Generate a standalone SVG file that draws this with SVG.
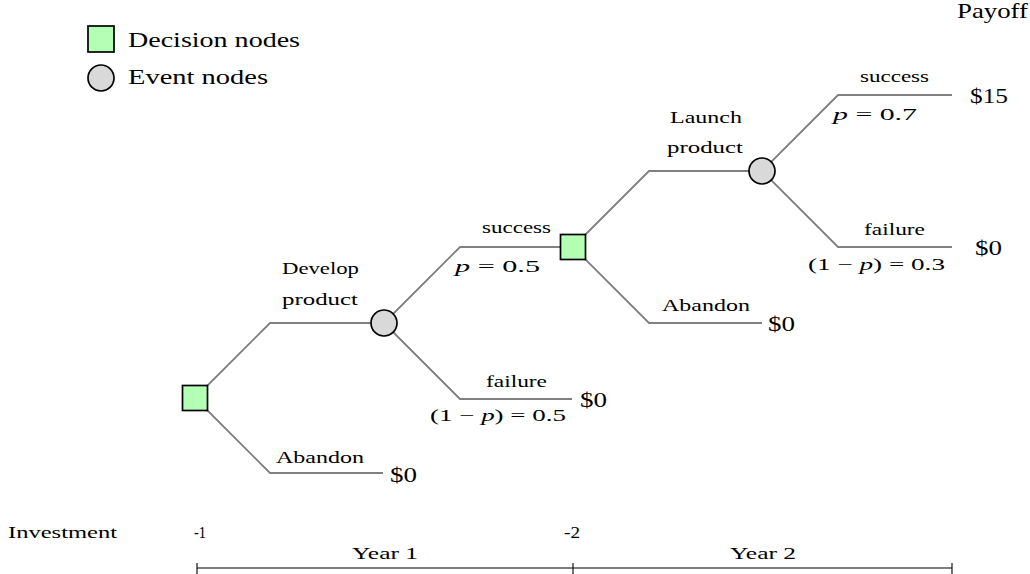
<svg xmlns="http://www.w3.org/2000/svg" width="1030" height="574" viewBox="0 0 1030 574" font-family="'Liberation Serif', 'Times New Roman', serif">
<style>
  .bg { fill: #ffffff; }
  .dec { fill: #b3ffb3; stroke: #000; stroke-width: 1.7; }
  .evt { fill: #d9d9d9; stroke: #000; stroke-width: 1.7; }
  .edge { fill: none; stroke: #808080; stroke-width: 1.8; }
  .axis { fill: none; stroke: #000; stroke-width: 1.1; }
  text { font-family: "Liberation Serif", "Times New Roman", serif; fill: #000; }
  .big { font-size: 21.5px; }
  .sm { font-size: 17.5px; }
  .mid { text-anchor: middle; }
  .it { font-style: italic; }
</style>
<rect class="bg" x="0" y="0" width="1030" height="574"/>

<g id="legend">
  <rect class="dec" x="88" y="26" width="26" height="26"/>
  <text class="big" x="128" y="47" textLength="172" lengthAdjust="spacingAndGlyphs">Decision nodes</text>
  <circle class="evt" cx="101" cy="78" r="13"/>
  <text class="big" x="128" y="84" textLength="140" lengthAdjust="spacingAndGlyphs">Event nodes</text>
</g>

<text id="payoff-title" class="big" x="957" y="18" textLength="71" lengthAdjust="spacingAndGlyphs">Payoff</text>

<g id="connectors">
  <polyline class="edge" points="195,398 270,323 384,323"/>
  <polyline class="edge" points="195,398 270,473 383,473"/>
  <polyline class="edge" points="384,323 460,247 573,247"/>
  <polyline class="edge" points="384,323 460,399 572,399"/>
  <polyline class="edge" points="573,247 649,171 762,171"/>
  <polyline class="edge" points="573,247 649,323 762,323"/>
  <polyline class="edge" points="762,171 838,95 952,95"/>
  <polyline class="edge" points="762,171 838,247 952,247"/>
</g>

<g id="edge-labels">
  <text class="sm" x="282" y="274" textLength="77" lengthAdjust="spacingAndGlyphs">Develop</text>
  <text class="sm" x="282" y="305" textLength="76" lengthAdjust="spacingAndGlyphs">product</text>
  <text class="sm" x="276" y="463" textLength="88" lengthAdjust="spacingAndGlyphs">Abandon</text>
  <text class="sm" x="482" y="233" textLength="69" lengthAdjust="spacingAndGlyphs">success</text>
  <text class="sm" x="455" y="272" textLength="85" lengthAdjust="spacingAndGlyphs"><tspan class="it">p</tspan> = 0.5</text>
  <text class="sm" x="486" y="387" textLength="61" lengthAdjust="spacingAndGlyphs">failure</text>
  <text class="sm" x="430" y="421" textLength="136" lengthAdjust="spacingAndGlyphs">(1 − <tspan class="it">p</tspan>) = 0.5</text>
  <text class="sm" x="670" y="123" textLength="72" lengthAdjust="spacingAndGlyphs">Launch</text>
  <text class="sm" x="667" y="153" textLength="76" lengthAdjust="spacingAndGlyphs">product</text>
  <text class="sm" x="662" y="311" textLength="88" lengthAdjust="spacingAndGlyphs">Abandon</text>
  <text class="sm" x="860" y="82" textLength="69" lengthAdjust="spacingAndGlyphs">success</text>
  <text class="sm" x="833" y="120" textLength="84" lengthAdjust="spacingAndGlyphs"><tspan class="it">p</tspan> = 0.7</text>
  <text class="sm" x="864" y="235" textLength="61" lengthAdjust="spacingAndGlyphs">failure</text>
  <text class="sm" x="808" y="270" textLength="137" lengthAdjust="spacingAndGlyphs">(1 − <tspan class="it">p</tspan>) = 0.3</text>
</g>

<g id="payoffs">
  <text class="big" x="970" y="103" textLength="38" lengthAdjust="spacingAndGlyphs">$15</text>
  <text class="big" x="975" y="255" textLength="27" lengthAdjust="spacingAndGlyphs">$0</text>
  <text class="big" x="768" y="331" textLength="27" lengthAdjust="spacingAndGlyphs">$0</text>
  <text class="big" x="580" y="407" textLength="27" lengthAdjust="spacingAndGlyphs">$0</text>
  <text class="big" x="390" y="482" textLength="27" lengthAdjust="spacingAndGlyphs">$0</text>
</g>

<g id="decision-1"><rect class="dec" x="182.5" y="385.5" width="25" height="25"/></g>
<g id="event-1"><circle class="evt" cx="384" cy="323" r="13"/></g>
<g id="decision-2"><rect class="dec" x="560.5" y="234.5" width="25" height="25"/></g>
<g id="event-2"><circle class="evt" cx="762" cy="171" r="13"/></g>

<g id="timeline">
  <text class="sm" x="8" y="538" textLength="109" lengthAdjust="spacingAndGlyphs">Investment</text>
  <text class="sm" x="194" y="538" textLength="12" lengthAdjust="spacingAndGlyphs">-1</text>
  <text class="sm" x="564" y="538" textLength="16" lengthAdjust="spacingAndGlyphs">-2</text>
  <text class="sm mid" x="385" y="559" textLength="66" lengthAdjust="spacingAndGlyphs">Year 1</text>
  <text class="sm mid" x="763" y="559" textLength="66" lengthAdjust="spacingAndGlyphs">Year 2</text>
  <line class="axis" x1="197" y1="568" x2="952" y2="568"/>
  <line class="axis" x1="197" y1="563" x2="197" y2="574"/>
  <line class="axis" x1="573" y1="563" x2="573" y2="574"/>
  <line class="axis" x1="952" y1="563" x2="952" y2="574"/>
</g>
</svg>
